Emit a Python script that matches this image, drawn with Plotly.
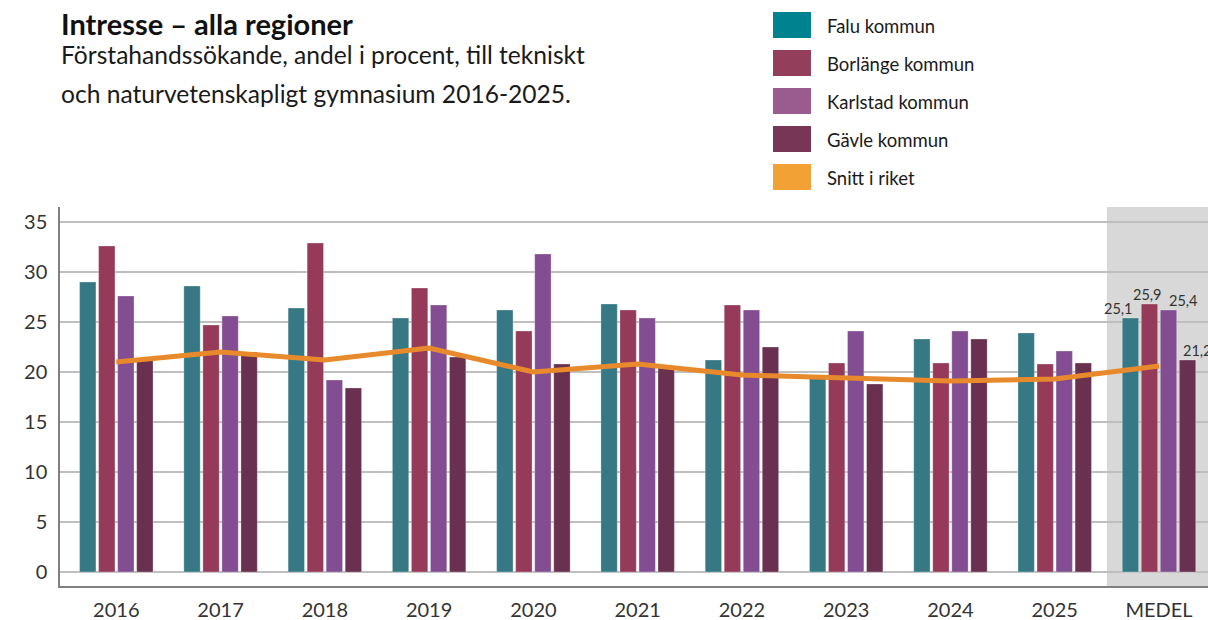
import plotly.graph_objects as go

categories = ["2016", "2017", "2018", "2019", "2020", "2021", "2022", "2023", "2024", "2025", "MEDEL"]
falu = [29.0, 28.6, 26.4, 25.4, 26.2, 26.8, 21.2, 19.5, 23.3, 23.9, 25.4]
borlange = [32.6, 24.7, 32.9, 28.4, 24.1, 26.2, 26.7, 20.9, 20.9, 20.8, 26.8]
karlstad = [27.6, 25.6, 19.2, 26.7, 31.8, 25.4, 26.2, 24.1, 24.1, 22.1, 26.2]
gavle = [21.2, 22.0, 18.4, 21.5, 20.8, 20.4, 22.5, 18.8, 23.3, 20.9, 21.2]
snitt = [21.0, 22.0, 21.2, 22.4, 20.0, 20.8, 19.7, 19.4, 19.1, 19.3, 20.6]
medel_labels = ["25,1", "25,9", "25,4", "21,2"]

names = ["Falu kommun", "Borlänge kommun", "Karlstad kommun", "Gävle kommun", "Snitt i riket"]
bar_colors = ["#367985", "#963A5A", "#824E91", "#69304F"]
legend_colors = ["#00838F", "#933E5B", "#9A5B8F", "#773656", "#F2A234"]
line_color = "#E88A2C"
FONT = "Lato"

W, H = 1208, 620
ML, MR, MT, MB = 60, 0, 207, 34
PW, PH = W - ML - MR, H - MT - MB


def px_x(px):
    return (px - ML) / PW


def px_y(py):
    return (H - MB - py) / PH


fig = go.Figure()
for name, vals, col in zip(names[:4], [falu, borlange, karlstad, gavle], bar_colors):
    fig.add_trace(go.Bar(
        x=categories, y=vals, name=name,
        marker=dict(color=col, line=dict(color="rgba(255,255,255,0.35)", width=0.8)),
        showlegend=False,
    ))

fig.add_trace(go.Scatter(
    x=categories, y=snitt, name=names[4], mode="lines",
    line=dict(color=line_color, width=5), showlegend=False,
))

shapes = [
    dict(type="rect", xref="x", yref="paper", x0=9.5, x1=10.6, y0=0, y1=1,
         fillcolor="#D8D8D8", line=dict(width=0), layer="below"),
]
annotations = []

# Data labels for MEDEL group
shifts = [(-40, "center"), (-11, "center"), (25, "center"), (22, "left")]
for lab, vals, (xs, anc) in zip(medel_labels, [falu, borlange, karlstad, gavle], shifts):
    annotations.append(dict(
        x=10, y=vals[-1], xref="x", yref="y", text=lab, showarrow=False,
        xshift=xs, xanchor=anc, yanchor="bottom", yshift=-1,
        font=dict(family=FONT, size=14.5, color="#333333"),
    ))

# Title and subtitle
annotations.append(dict(x=px_x(59), y=px_y(23), xref="paper", yref="paper",
                        text="<b>Intresse – alla regioner</b>", showarrow=False,
                        xanchor="left", yanchor="middle",
                        font=dict(family=FONT, size=29, color="#111111")))
annotations.append(dict(x=px_x(59), y=px_y(55), xref="paper", yref="paper",
                        text="Förstahandssökande, andel i procent, till tekniskt", showarrow=False,
                        xanchor="left", yanchor="middle",
                        font=dict(family=FONT, size=24.6, color="#1a1a1a")))
annotations.append(dict(x=px_x(59), y=px_y(94), xref="paper", yref="paper",
                        text="och naturvetenskapligt gymnasium 2016-2025.", showarrow=False,
                        xanchor="left", yanchor="middle",
                        font=dict(family=FONT, size=24.6, color="#1a1a1a")))

# Legend (manual, large swatches)
for i, (name, col) in enumerate(zip(names, legend_colors)):
    top = 12 + i * 38
    shapes.append(dict(type="rect", xref="paper", yref="paper",
                       x0=px_x(773), x1=px_x(811), y0=px_y(top + 26), y1=px_y(top),
                       fillcolor=col, line=dict(width=0)))
    annotations.append(dict(x=px_x(825), y=px_y(top + 14), xref="paper", yref="paper",
                            text=name, showarrow=False, xanchor="left", yanchor="middle",
                            font=dict(family=FONT, size=18.5, color="#1a1a1a")))

fig.update_layout(
    width=W, height=H,
    margin=dict(l=ML, r=MR, t=MT, b=MB, pad=0),
    paper_bgcolor="white", plot_bgcolor="white",
    barmode="group", bargap=0.27, bargroupgap=0.14,
    shapes=shapes, annotations=annotations,
    font=dict(family=FONT, color="#333333"),
    xaxis=dict(
        type="category", range=[-0.54, 10.47], automargin=False,
        showgrid=False, showline=True, linecolor="#808080", linewidth=1.5,
        ticks="", tickfont=dict(family=FONT, size=20, color="#333333"),
        ticklabelstandoff=5,
    ),
    yaxis=dict(
        range=[-1.4, 36.5], tickvals=[0, 5, 10, 15, 20, 25, 30, 35], automargin=False,
        showgrid=True, gridcolor="#BFBFBF", gridwidth=1.5,
        zeroline=True, zerolinecolor="#BFBFBF", zerolinewidth=1.5,
        showline=True, linecolor="#808080", linewidth=1.5,
        ticks="", tickfont=dict(family=FONT, size=20, color="#333333"),
        ticklabelstandoff=7,
    ),
)

fig.write_html("out.html", config={"displayModeBar": False},
               post_script="document.body.style.margin='0';")
